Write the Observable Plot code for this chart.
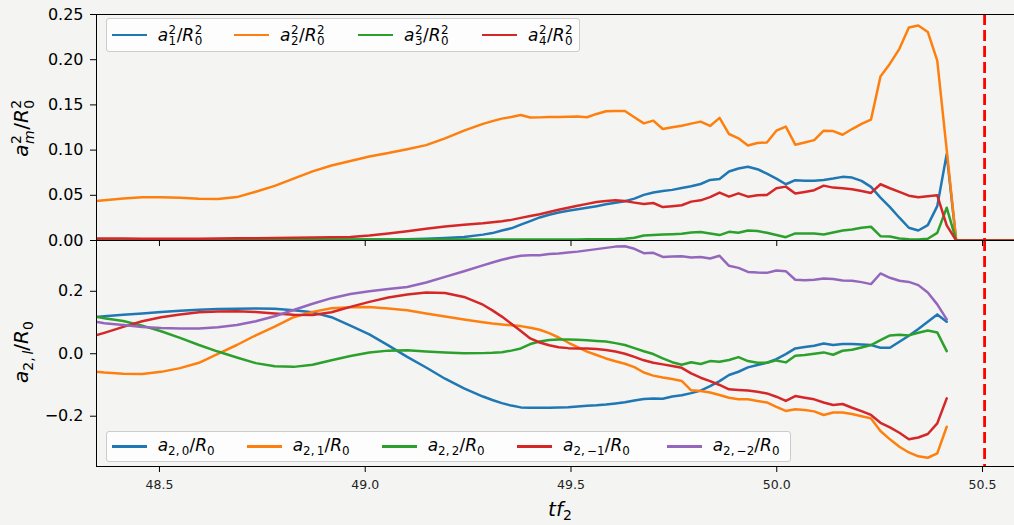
<!DOCTYPE html>
<html><head><meta charset="utf-8">
<script src="https://cdn.jsdelivr.net/npm/d3@7"></script>
<script src="https://cdn.jsdelivr.net/npm/@observablehq/plot@0.6"></script>
<style>
html,body{margin:0;padding:0;background:#f4f5f2;}
#fig{position:relative;width:1014px;height:525px;overflow:hidden;background:#f4f5f2;font-family:"DejaVu Sans",sans-serif;color:#000;}
#fig svg{position:absolute;left:0;}
.leg{position:absolute;background:rgba(255,255,255,0.8);border:1px solid #cccccc;border-radius:3px;box-sizing:border-box;}
.ent{position:absolute;top:0;height:100%;display:flex;align-items:center;}
.hd{display:block;width:35px;height:2.5px;margin-right:11px;}
.tx{font-size:17px;line-height:1;white-space:nowrap;position:relative;top:1px;}
.ss{display:inline-flex;flex-direction:column;font-size:0.7em;line-height:0.95;vertical-align:0.55em;margin-left:0.04em;margin-right:0.04em;}
.sb{font-size:0.7em;vertical-align:-0.3em;}
.ylab{position:absolute;font-size:20px;line-height:1;white-space:nowrap;transform:translate(-50%,-50%) rotate(-90deg);}
.xlab{position:absolute;font-size:20px;line-height:1;white-space:nowrap;transform:translate(-50%,0);}
</style>
</head><body>
<div id="fig"></div>
<script>
// ---------- data ----------
const t = [48.343, 48.366, 48.412, 48.458, 48.504, 48.550, 48.596, 48.642, 48.688, 48.734, 48.780, 48.826, 48.872, 48.918, 48.964, 49.010, 49.056, 49.102, 49.148, 49.194, 49.240, 49.286,
  49.309, 49.332, 49.355, 49.378, 49.401, 49.424, 49.447, 49.470, 49.493, 49.516, 49.539, 49.562, 49.585, 49.608, 49.631, 49.654, 49.677, 49.700, 49.723, 49.746, 49.769, 49.792, 49.815, 49.838, 49.861, 49.884, 49.907, 49.930, 49.953, 49.976, 49.999, 50.022, 50.045, 50.068, 50.091, 50.114, 50.137, 50.160, 50.183, 50.206, 50.229, 50.252, 50.275, 50.298, 50.321, 50.344, 50.367, 50.390, 50.413];
const tTop = t.concat([50.436, 50.700]);

// top panel: a_m^2 / R_0^2
const a1sq = [0.0008,0.0008,0.0008,0.0008,0.0008,0.0008,0.0008,0.0008,0.0008,0.0008,0.0008,0.0008,0.0008,0.0008,0.0008,
  0.001,0.0012,0.0015,0.002,0.0028,0.004,0.0065,
  0.0082,0.011,0.0135,0.0175,0.0215,0.0255,0.0285,0.031,0.033,0.0345,0.0362,0.038,0.040,0.0418,0.0435,0.0463,0.0505,0.053,0.0548,0.056,0.058,0.060,0.0625,0.067,0.068,0.0763,0.0796,0.0815,0.0789,0.074,0.0685,0.0622,0.0667,0.066,0.066,0.067,0.0685,0.0704,0.0696,0.066,0.0593,0.0474,0.037,0.0252,0.0141,0.0111,0.017,0.038,0.0956,
  0,0];
const a2sq = [0.0435,0.0445,0.0465,0.0478,0.0478,0.0472,0.0462,0.0458,0.048,0.054,0.0604,0.0685,0.0765,0.083,0.088,0.093,0.0967,0.101,0.1055,0.113,0.1215,0.129,
  0.132,0.1348,0.1367,0.1389,0.136,0.1362,0.1365,0.1365,0.137,0.1372,0.1363,0.140,0.143,0.1432,0.1432,0.1363,0.1296,0.1326,0.1233,0.1252,0.127,0.1293,0.1315,0.1267,0.1356,0.1178,0.113,0.105,0.1078,0.1085,0.1215,0.126,0.106,0.1085,0.111,0.1215,0.121,0.117,0.1233,0.129,0.1337,0.1815,0.1956,0.212,0.2356,0.2378,0.2307,0.199,0.100,
  0,0];
const a3sq = [0.0015,0.0015,0.0012,0.001,0.001,0.001,0.001,0.001,0.001,0.001,0.001,0.001,0.001,0.001,0.001,0.001,0.001,0.001,0.001,0.001,0.001,0.001,
  0.001,0.001,0.001,0.001,0.001,0.001,0.001,0.001,0.001,0.0012,0.0013,0.0015,0.0015,0.0015,0.002,0.003,0.0055,0.0062,0.0067,0.007,0.0074,0.0088,0.0093,0.0078,0.006,0.0096,0.0085,0.0111,0.0104,0.0085,0.006,0.0037,0.0078,0.0078,0.0078,0.0067,0.0089,0.0111,0.0122,0.0141,0.0152,0.0048,0.0044,0.0022,0.0015,0.0011,0.002,0.0085,0.0363,
  0,0];
const a4sq = [0.0022,0.0022,0.0021,0.002,0.002,0.002,0.002,0.0022,0.0024,0.0026,0.0028,0.003,0.0032,0.0036,0.004,0.0055,0.0078,0.0102,0.013,0.0155,0.0175,0.019,
  0.0202,0.0212,0.0228,0.025,0.027,0.029,0.0315,0.034,0.0363,0.0385,0.0405,0.0425,0.0438,0.0444,0.0436,0.0419,0.0404,0.0415,0.037,0.038,0.039,0.043,0.0444,0.048,0.053,0.0485,0.0522,0.0485,0.050,0.0504,0.0578,0.0596,0.0519,0.0537,0.0556,0.0607,0.0585,0.0578,0.0567,0.0548,0.0526,0.0622,0.0578,0.0537,0.0496,0.0478,0.049,0.050,0.0167,
  0,0];

// bottom panel: a_{2,l} / R_0
const a20 = [0.117,0.12,0.1245,0.129,0.1335,0.1375,0.141,0.143,0.1443,0.145,0.1437,0.139,0.1325,0.117,0.090,0.062,0.027,-0.010,-0.044,-0.080,-0.111,-0.137,
  -0.148,-0.158,-0.166,-0.1717,-0.1725,-0.1728,-0.1725,-0.172,-0.171,-0.169,-0.1665,-0.165,-0.1625,-0.159,-0.155,-0.150,-0.145,-0.143,-0.144,-0.137,-0.133,-0.126,-0.118,-0.1035,-0.0875,-0.068,-0.0576,-0.0437,-0.036,-0.0288,-0.017,-0.001,0.017,0.0213,0.0256,0.033,0.0277,0.031,0.031,0.030,0.0277,0.019,0.019,0.0384,0.0576,0.079,0.1024,0.126,0.1024];
const a21 = [-0.057,-0.060,-0.064,-0.0645,-0.058,-0.046,-0.029,-0.0005,0.028,0.059,0.087,0.117,0.134,0.146,0.149,0.150,0.145,0.139,0.129,0.119,0.110,0.101,
  0.097,0.094,0.091,0.0885,0.083,0.077,0.066,0.052,0.036,0.021,0.007,-0.004,-0.015,-0.024,-0.032,-0.043,-0.060,-0.070,-0.076,-0.081,-0.087,-0.117,-0.1195,-0.124,-0.132,-0.141,-0.146,-0.146,-0.151,-0.156,-0.170,-0.183,-0.178,-0.180,-0.1845,-0.196,-0.188,-0.188,-0.193,-0.200,-0.207,-0.2475,-0.274,-0.2976,-0.316,-0.3285,-0.333,-0.319,-0.2336];
const a22 = [0.119,0.114,0.105,0.090,0.072,0.051,0.028,0.007,-0.012,-0.030,-0.040,-0.042,-0.035,-0.021,-0.007,0.004,0.010,0.0115,0.0075,0.004,0.0015,0.002,
  0.003,0.005,0.010,0.017,0.031,0.039,0.044,0.046,0.046,0.045,0.043,0.041,0.039,0.034,0.028,0.018,0.008,-0.001,-0.015,-0.027,-0.035,-0.027,-0.033,-0.0235,-0.0256,-0.020,-0.0107,-0.0235,-0.0288,-0.0288,-0.0213,-0.0277,-0.0064,-0.0043,0.0,0.0043,-0.0032,0.0096,0.0128,0.020,0.0277,0.0437,0.0587,0.061,0.0587,0.0672,0.0747,0.0683,0.0085];
const a2m1 = [0.058,0.067,0.086,0.104,0.117,0.126,0.1325,0.135,0.136,0.134,0.129,0.125,0.124,0.133,0.150,0.166,0.180,0.190,0.196,0.1945,0.182,0.157,
  0.139,0.119,0.096,0.073,0.049,0.036,0.027,0.0205,0.018,0.017,0.017,0.015,0.012,0.007,0.000,-0.010,-0.021,-0.029,-0.034,-0.039,-0.045,-0.063,-0.0768,-0.0875,-0.100,-0.114,-0.116,-0.118,-0.1216,-0.127,-0.1376,-0.151,-0.1355,-0.141,-0.146,-0.156,-0.164,-0.161,-0.173,-0.1835,-0.196,-0.221,-0.236,-0.253,-0.274,-0.268,-0.257,-0.223,-0.143];
const a2m2 = [0.103,0.098,0.092,0.086,0.0825,0.081,0.081,0.085,0.092,0.104,0.120,0.140,0.160,0.178,0.191,0.200,0.207,0.214,0.228,0.246,0.264,0.283,
  0.292,0.301,0.308,0.3136,0.315,0.3157,0.319,0.321,0.324,0.327,0.331,0.335,0.339,0.343,0.344,0.336,0.322,0.323,0.310,0.311,0.3125,0.308,0.310,0.305,0.3136,0.2816,0.275,0.262,0.260,0.259,0.2667,0.2645,0.2368,0.2357,0.2368,0.241,0.239,0.2347,0.2336,0.2293,0.223,0.257,0.2432,0.2336,0.230,0.2197,0.196,0.158,0.110];

const modes = ["1","2","3","4"];
const ls = ["0","1","2","\u22121","\u22122"];
const colors = ["#1f77b4","#ff7f0e","#2ca02c","#d62728","#9467bd"];
const xTicks = [48.5, 49.0, 49.5, 50.0, 50.5];
const topYTicks = [0.00, 0.05, 0.10, 0.15, 0.20, 0.25];
const botYTicks = [-0.2, 0.0, 0.2];
const tCollapse = [50.505];

// ---------- chart ----------
const xDomain = [48.347, 50.602];
const W = 1030, ML = 96, MR = 6;
const base = {background:"transparent", overflow:"visible", maxWidth:"none", color:"#000", fontFamily:"DejaVu Sans, sans-serif"};

function lineMarks(xs, series) {
  return series.map((s, k) => Plot.line(xs.map((x, i) => ({x, v: s[i]})),
    {x: "x", y: "v", stroke: colors[k], strokeWidth: 2.5, clip: true}));
}

const topPlot = Plot.plot({
  width: W, height: 241, marginTop: 14, marginBottom: 1, marginLeft: ML, marginRight: MR,
  style: base,
  x: {domain: xDomain},
  y: {domain: [0, 0.25]},
  marks: [
    ...lineMarks(tTop, [a1sq, a2sq, a3sq, a4sq]),
    Plot.ruleX(tCollapse, {stroke: "#ff0000", strokeWidth: 2.8, strokeDasharray: "11,5"}),
    Plot.frame({stroke: "#000", strokeWidth: 1}),
    Plot.axisY({ticks: topYTicks, tickFormat: d3.format(".2f"), tickSize: 6, tickPadding: 7, fontSize: 16, label: null}),
    Plot.axisX({ticks: xTicks, tickFormat: () => "", tickSize: 6, label: null})
  ]
});

const botPlot = Plot.plot({
  width: W, height: 285, marginTop: 0, marginBottom: 59, marginLeft: ML, marginRight: MR,
  style: base,
  x: {domain: xDomain},
  y: {domain: [-0.361, 0.3626]},
  marks: [
    ...lineMarks(t, [a20, a21, a22, a2m1, a2m2]),
    Plot.ruleX(tCollapse, {stroke: "#ff0000", strokeWidth: 2.8, strokeDasharray: "11,5"}),
    Plot.frame({stroke: "#000", strokeWidth: 1}),
    Plot.axisY({ticks: botYTicks, tickFormat: d3.format(".1f"), tickSize: 6, tickPadding: 7, fontSize: 16, label: null}),
    Plot.axisX({ticks: xTicks, tickFormat: d3.format(".1f"), tickSize: 6, tickPadding: 8, fontSize: 12.5, fill: "#222", label: null})
  ]
});

const fig = document.getElementById("fig");
topPlot.style.top = "0px";
botPlot.style.top = "240px";
fig.appendChild(botPlot);
fig.appendChild(topPlot);

// ---------- text (math-like labels) ----------
const ss = (a, b) => `<span class="ss"><span>${a}</span><span>${b}</span></span>`;
const topLabel = m => `<i>a</i>${ss("2", m)}/<i>R</i>${ss("2", "0")}`;
const botLabel = l => `<i>a</i><span class="sb">2,&#8201;${l}</span>/<i>R</i><span class="sb">0</span>`;

function legend(box, entries) {
  const d = document.createElement("div");
  d.className = "leg";
  Object.assign(d.style, {left: box[0] + "px", top: box[1] + "px", width: box[2] + "px", height: box[3] + "px"});
  entries.forEach(e => {
    const en = document.createElement("div");
    en.className = "ent";
    en.style.left = e.x + "px";
    en.innerHTML = `<span class="hd" style="background:${e.c}"></span><span class="tx">${e.html}</span>`;
    d.appendChild(en);
  });
  fig.appendChild(d);
}
const topX = [4.7, 127, 251, 375];
legend([106, 18, 474, 34], modes.map((m, i) => ({x: topX[i], c: colors[i], html: topLabel(m)})));
const botX = [4.7, 139.7, 274.7, 410, 559.7];
legend([106, 431, 685, 31], ls.map((l, i) => ({x: botX[i], c: colors[i], html: botLabel(l)})));

function addText(cls, html, x, y) {
  const d = document.createElement("div");
  d.className = cls;
  d.innerHTML = html;
  d.style.left = x + "px";
  d.style.top = y + "px";
  fig.appendChild(d);
}
addText("ylab", `<i>a</i>${ss("2", "<i>m</i>")}/<i>R</i>${ss("2", "0")}`, 23, 128);
addText("ylab", `<i>a</i><span class="sb">2,&#8201;<i>l</i></span>/<i>R</i><span class="sb">0</span>`, 23, 352);
addText("xlab", `<i>tf</i><span class="sb">2</span>`, 560, 499);
</script>
</body></html>
